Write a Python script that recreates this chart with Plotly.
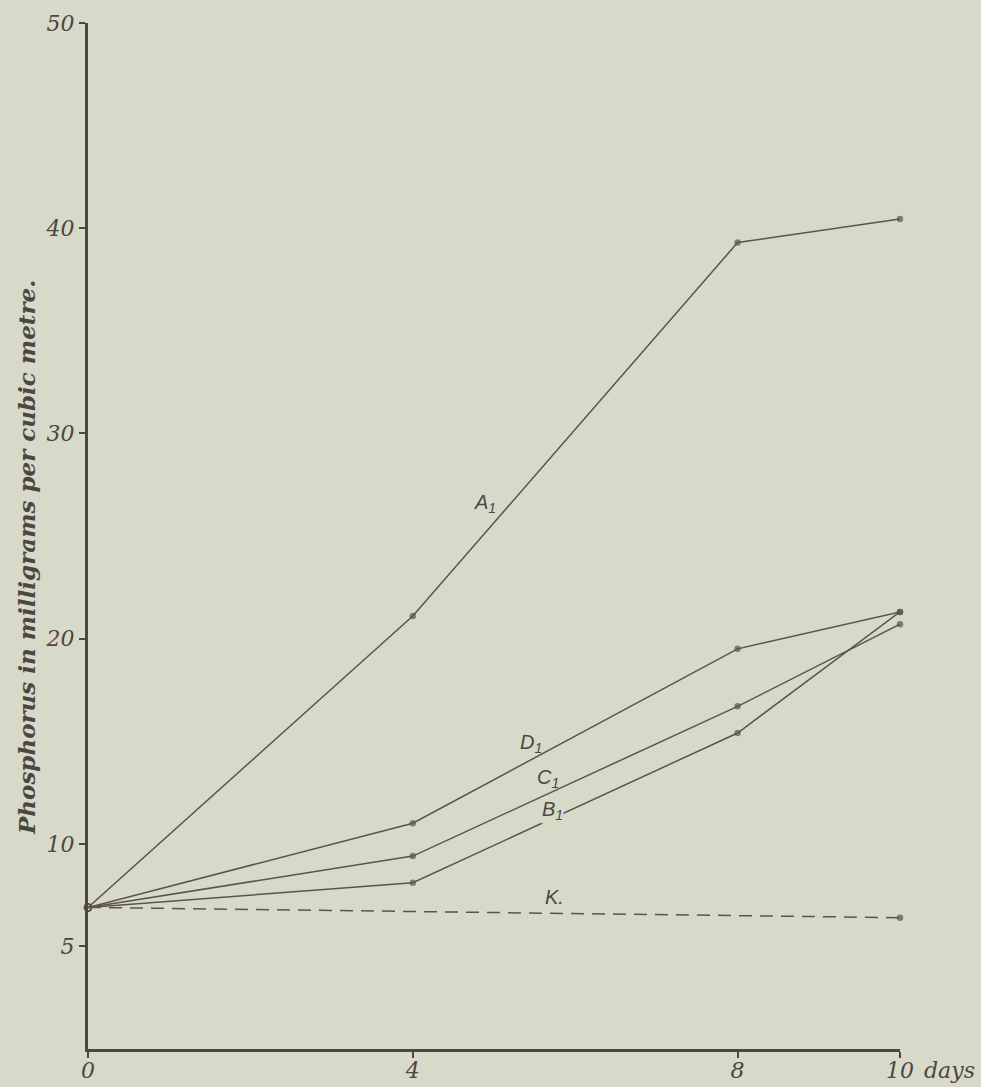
import plotly.graph_objects as go

# ---- data ----
days = [0, 4, 8, 10]
series_names = ["A1", "B1", "C1", "D1"]
A1 = [6.9, 21.1, 39.3, 40.45]
B1 = [6.9, 8.1, 15.4, 21.3]
C1 = [6.9, 9.4, 16.7, 20.7]
D1 = [6.9, 11.0, 19.5, 21.3]
K_days = [0, 10]
K = [6.9, 6.4]

x_tickvals = [0, 4, 8, 10]
x_ticktext = ["0", "4", "8", "10"]
y_tickvals = [5, 10, 20, 30, 40, 50]
y_ticktext = ["5", "10", "20", "30", "40", "50"]

# label positions (data coordinates)
label_text = ["A<sub>1</sub>", "B<sub>1</sub>", "C<sub>1</sub>", "D<sub>1</sub>", "K."]
label_x = [4.89, 5.72, 5.66, 5.46, 5.75]
label_y = [26.6, 11.6, 13.2, 14.9, 7.4]
label_bg = [False, True, False, False, False]

BG = "#d7dac9"
INK = "#4e4740"
LINE = "#5b544c"

fig = go.Figure()

for name, vals in zip(series_names, [A1, B1, C1, D1]):
    fig.add_trace(go.Scatter(
        x=days, y=vals, mode="lines+markers", name=name,
        line=dict(color=LINE, width=1.5),
        marker=dict(color=LINE, size=[7, 5, 5, 5],
                    symbol=["circle-open", "circle", "circle", "circle"],
                    line=dict(color=LINE, width=1.5)),
        cliponaxis=False, showlegend=False,
    ))

fig.add_trace(go.Scatter(
    x=K_days, y=K, mode="lines+markers", name="K",
    line=dict(color=LINE, width=1.5, dash="13px,8px"),
    marker=dict(color=LINE, size=[7, 5], symbol=["circle-open", "circle"],
                line=dict(color=LINE, width=1.5)),
    cliponaxis=False, showlegend=False,
))

for t, lx, ly, bg in zip(label_text, label_x, label_y, label_bg):
    fig.add_annotation(
        x=lx, y=ly, xref="x", yref="y", text="<i>" + t + "</i>",
        showarrow=False, bgcolor=BG if bg else None, borderpad=0,
        font=dict(family="Liberation Sans, Arial, sans-serif", size=20, color=INK),
    )

# "days" after the last x tick
fig.add_annotation(
    x=10, y=0, xref="x", yref="y", text="<i>days</i>", showarrow=False,
    xanchor="left", yanchor="middle", xshift=22, yshift=-21,
    font=dict(family="DejaVu Serif, serif", size=22, color=INK),
)

# y axis title
fig.add_annotation(
    x=0, y=0.4786, xref="paper", yref="paper", xshift=-61,
    text="<i><b>Phosphorus in milligrams per cubic metre.</b></i>", textangle=-90,
    showarrow=False, xanchor="center", yanchor="middle",
    font=dict(family="DejaVu Serif, serif", size=23, color=INK),
)

axis_font = dict(family="DejaVu Serif, serif", size=22, color=INK)

fig.update_xaxes(
    range=[0, 10], tickvals=x_tickvals, ticktext=["<i>%s</i>" % t for t in x_ticktext],
    showgrid=False, zeroline=False, showline=True, linecolor=INK, linewidth=3,
    ticks="outside", ticklen=6, tickwidth=2, tickcolor=INK, tickfont=axis_font,
    ticklabelstandoff=-6, automargin=False,
)
fig.update_yaxes(
    range=[0, 50], tickvals=y_tickvals, ticktext=["<i>%s</i>" % t for t in y_ticktext],
    showgrid=False, zeroline=False, showline=True, linecolor=INK, linewidth=3,
    ticks="outside", ticklen=6, tickwidth=2, tickcolor=INK, tickfont=axis_font,
    automargin=False,
)

fig.update_layout(
    width=981, height=1087,
    margin=dict(l=88, r=81, t=23, b=38, autoexpand=False),
    paper_bgcolor=BG, plot_bgcolor=BG,
    showlegend=False,
)

fig.write_html(
    "out.html",
    config={"displayModeBar": False},
    post_script="document.body.style.margin='0';document.body.style.background='%s';" % BG,
)
